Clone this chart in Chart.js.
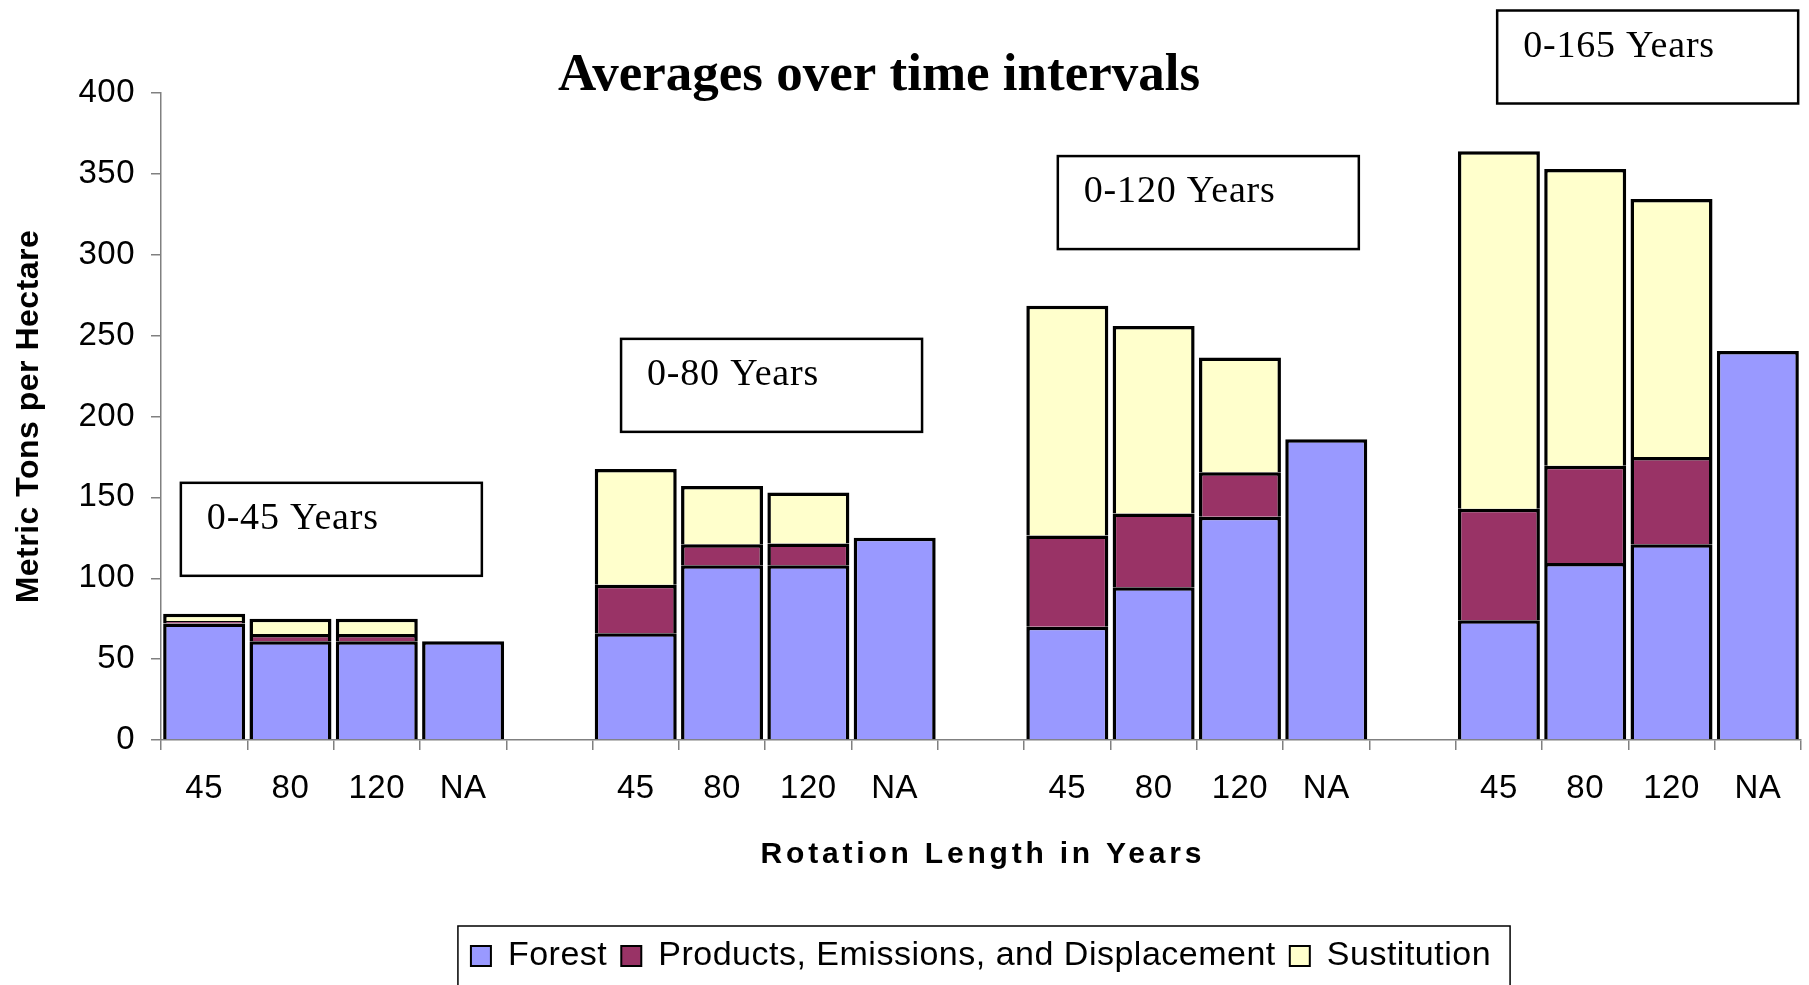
<!DOCTYPE html>
<html>
<head>
<meta charset="utf-8">
<title>Averages over time intervals</title>
<script src="https://cdn.jsdelivr.net/npm/chart.js@4.4.0/dist/chart.umd.min.js"></script>
<style>
  html, body { margin: 0; padding: 0; background: #fff; overflow: hidden; }
  canvas { display: block; }
</style>
</head>
<body>
<canvas id="myChart" width="1809" height="985"></canvas>
<script>
// 4 time intervals, each has bars for rotation 45, 80, 120 and NA (no harvest)
const intervals = ["0-45 Years", "0-80 Years", "0-120 Years", "0-165 Years"];
const rotations = ["45", "80", "120", "NA"];

const forest       = [72, 61, 61, 61,     66, 108, 108, 125,     70, 94.5, 138, 186,     74, 109.5, 121, 240.5];
const products     = [1.5, 4.5, 4.5, null, 30, 13, 13.5, null,   56.5, 45.5, 27.5, null, 69, 60, 54, null];
const substitution = [4.5, 9.5, 9.5, null, 71.5, 36, 31.5, null, 142, 116, 71, null,     221, 183.5, 159.5, null];

const yTicks = [0, 50, 100, 150, 200, 250, 300, 350, 400];

// interval label boxes: left edge as category index, top edge as y value
const boxLeft = [-0.27, 4.83, 9.89, 14.98];
const boxTop = [159, 248, 361, 451];

// build the 19 slots (empty slot between groups)
let labels = [];
let fData = [], pData = [], sData = [];
for (let i = 0; i < intervals.length; i++) {
    if (i > 0) {
        labels.push("");
        fData.push(null); pData.push(null); sData.push(null);
    }
    for (let j = 0; j < rotations.length; j++) {
        const k = i * rotations.length + j;
        labels.push(rotations[j]);
        fData.push(forest[k]);
        pData.push(products[k]);
        sData.push(substitution[k]);
    }
}

const spacing = "0.5px";
const sans = "'Liberation Sans', Arial, sans-serif";
const serif = "'Liberation Serif', 'Times New Roman', serif";

const extras = {
    id: "extras",
    beforeLayout(chart) {
        chart.ctx.letterSpacing = spacing;
    },
    beforeDraw(chart) {
        const ctx = chart.ctx;
        ctx.letterSpacing = spacing;
        ctx.save();
        ctx.fillStyle = "#fff";
        ctx.fillRect(0, 0, chart.width, chart.height);
        ctx.restore();
    },
    afterDraw(chart) {
        const ctx = chart.ctx;
        const x = chart.scales.x, y = chart.scales.y;
        const area = chart.chartArea;
        ctx.save();
        ctx.fillStyle = "#000";
        ctx.strokeStyle = "#000";

        ctx.letterSpacing = "0px";
        ctx.font = "bold 53px " + serif;
        ctx.textAlign = "center";
        ctx.textBaseline = "alphabetic";
        ctx.fillText("Averages over time intervals", 879, 90);

        // interval boxes
        ctx.font = "38px " + serif;
        ctx.letterSpacing = "0.8px";
        ctx.textAlign = "left";
        ctx.lineWidth = 2.5;
        intervals.forEach((txt, i) => {
            const left = x.getPixelForValue(boxLeft[i]);
            const top = y.getPixelForValue(boxTop[i]);
            ctx.fillStyle = "#fff";
            ctx.fillRect(left, top, 301, 93);
            ctx.strokeRect(left, top, 301, 93);
            ctx.fillStyle = "#000";
            ctx.fillText(txt, left + 26, top + 46);
        });

        // x axis title is spaced out in the original
        ctx.font = "bold 30px " + sans;
        ctx.letterSpacing = "3.8px";
        ctx.textAlign = "center";
        ctx.fillText("Rotation Length in Years", (area.left + area.right) / 2 + 1.9, area.bottom + 123);

        // frame round the legend
        const hb = chart.legend.legendHitBoxes;
        const last = hb[hb.length - 1];
        const fl = hb[0].left - 13;
        ctx.lineWidth = 1.5;
        ctx.strokeRect(fl, chart.legend.top + 1, last.left + last.width + 19 - fl, 90);
        ctx.restore();
    }
};

const axisGrey = "#808080";

const config = {
    type: "bar",
    data: {
        labels: labels,
        datasets: [
            { label: "Forest", data: fData, backgroundColor: "#9999FF", borderColor: "#000", borderWidth: 3.5 },
            { label: "Products, Emissions, and Displacement", data: pData, backgroundColor: "#993366", borderColor: "#000", borderWidth: 3.5 },
            { label: "Sustitution", data: sData, backgroundColor: "#FFFFCC", borderColor: "#000", borderWidth: 3.5 }
        ]
    },
    options: {
        responsive: false,
        animation: false,
        layout: { padding: { top: 93, right: 8, bottom: 2, left: 0 } },
        datasets: {
            bar: { barPercentage: 0.95, categoryPercentage: 1 }
        },
        scales: {
            x: {
                stacked: true,
                offset: true,
                grid: { display: true, drawOnChartArea: false, drawTicks: true, tickLength: 10, color: axisGrey, lineWidth: 1.5, offset: true },
                border: { display: true, color: axisGrey, width: 1.5 },
                ticks: { autoSkip: false, maxRotation: 0, minRotation: 0, color: "#000", font: { family: sans, size: 33 }, padding: 19 },
                afterFit: (s) => { s.height = 185; }
            },
            y: {
                stacked: true,
                min: 0,
                max: 400,
                grid: { display: true, drawOnChartArea: false, drawTicks: true, tickLength: 10, color: axisGrey, lineWidth: 1.5 },
                border: { display: true, color: axisGrey, width: 1.5 },
                ticks: { color: "#000", font: { family: sans, size: 33 }, padding: 16 },
                afterBuildTicks: (axis) => { axis.ticks = yTicks.map(v => ({ value: v })); },
                title: {
                    display: true,
                    text: "Metric Tons per Hectare",
                    color: "#000",
                    font: { family: sans, size: 32, weight: "bold" },
                    padding: { top: 10, bottom: 0 }
                },
                afterFit: (s) => { s.width = 161; }
            }
        },
        plugins: {
            title: { display: false },
            tooltip: { enabled: false },
            legend: {
                position: "bottom",
                fullSize: false,
                labels: {
                    color: "#000",
                    font: { family: sans, size: 34 },
                    boxWidth: 20,
                    boxHeight: 20,
                    padding: 14,
                    generateLabels: (chart) => Chart.defaults.plugins.legend.labels.generateLabels(chart).map(l => {
                        l.lineWidth = 2;
                        return l;
                    })
                }
            }
        }
    },
    plugins: [extras]
};

new Chart(document.getElementById("myChart"), config);
</script>
</body>
</html>
